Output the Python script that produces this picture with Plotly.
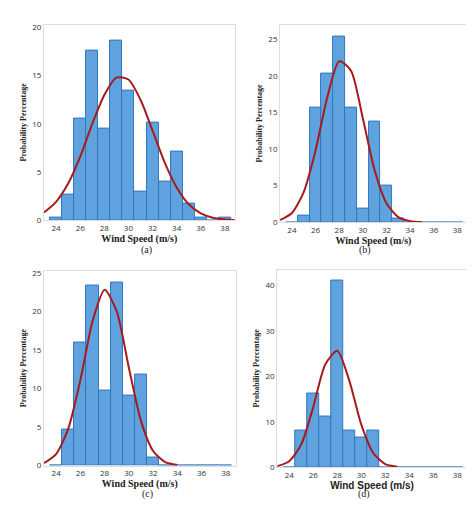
import plotly.graph_objects as go

# bin centres (width 1 m/s)
bins = [24, 25, 26, 27, 28, 29, 30, 31, 32, 33, 34, 35, 36, 37, 38]
pct_a = [0.3, 2.7, 10.5, 17.6, 9.5, 18.6, 13.5, 3.0, 10.1, 4.0, 7.1, 1.7, 0.3, 0, 0.3]
pct_b = [0, 0.9, 15.6, 20.3, 25.4, 15.6, 1.9, 13.8, 5.0, 0.5, 0, 0, 0, 0, 0]
pct_c = [0, 4.7, 15.9, 23.4, 9.8, 23.7, 9.1, 11.8, 1.0, 0, 0, 0, 0, 0, 0]
pct_d = [0, 8.0, 16.2, 11.1, 41.1, 8.0, 6.6, 8.0, 0, 0, 0, 0, 0, 0, 0]

# fitted normal curves
curve_x = [23, 24, 25, 26, 27, 28, 29, 30, 31, 32, 33, 34, 35, 36, 37, 38, 39]
fit_a = [0.8, 1.9, 3.8, 6.6, 10.0, 13.0, 14.8, 14.6, 12.5, 9.3, 6.0, 3.4, 1.65, 0.7, 0.25, 0.08, 0.02]
fit_b = [0.28, 1.25, 4.1, 9.8, 17.1, 22.0, 20.7, 14.2, 7.1, 2.6, 0.7, 0.14, 0.02]
fit_c = [0.33, 1.5, 4.8, 11.1, 18.7, 22.8, 20.0, 12.7, 5.8, 1.9, 0.45, 0.08]
fit_d = [0.21, 1.3, 5.0, 13.2, 22.6, 25.6, 19.1, 9.4, 3.1, 0.65, 0.09]

panels = [
    ('a', pct_a, fit_a, [0.076, 0.478], [0.587, 0.975], [0, 20.3], 5, '(a)', 0.528),
    ('b', pct_b, fit_b, [0.574, 0.968], [0.583, 0.975], [0, 27], 5, '(b)', 0.528),
    ('c', pct_c, fit_c, [0.076, 0.480], [0.100, 0.487], [0, 25.3], 5, '(c)', 0.027),
    ('d', pct_d, fit_d, [0.568, 0.968], [0.097, 0.489], [0, 43.5], 10, '(d)', 0.027),
]

fig = go.Figure()
annotations = []
for i, (name, pct, fit, xd, yd, yr, dt, lab, ly) in enumerate(panels):
    n = '' if i == 0 else str(i + 1)
    fig.add_trace(go.Bar(x=bins, y=pct, width=1, marker=dict(color='#5fa2dd', line=dict(color='#2f78c0', width=1)),
                         xaxis='x' + n, yaxis='y' + n, showlegend=False))
    fig.add_trace(go.Scatter(x=curve_x[:len(fit)], y=fit, mode='lines',
                             line=dict(color='#a61b1b', width=2, shape='spline', smoothing=0.7),
                             xaxis='x' + n, yaxis='y' + n, showlegend=False))
    xtitle_font = dict(family='Liberation Sans', size=10, color='#222') if name == 'd' else dict(family='Liberation Serif', size=10, color='#222')
    fig.update_layout({
        'xaxis' + n: dict(domain=xd, anchor='y' + n, range=[23, 38.8], dtick=2, tick0=24, showgrid=False,
                          showline=True, mirror=True, linecolor='#ddd', tickfont=dict(size=8, color='#333'),
                          title=dict(text='<b>Wind Speed (m/s)</b>', font=xtitle_font, standoff=2), zeroline=False),
        'yaxis' + n: dict(domain=yd, anchor='x' + n, range=yr, dtick=dt, showgrid=False,
                          showline=True, mirror=True, linecolor='#ddd', tickfont=dict(size=8, color='#333'),
                          title=dict(text='<b>Probability Percentage</b>', font=dict(family='Liberation Serif', size=8, color='#222'), standoff=4),
                          zeroline=False),
    })
    annotations.append(dict(text=lab, x=(xd[0] + xd[1]) / 2, y=ly, xref='paper', yref='paper',
                            showarrow=False, font=dict(family='Liberation Serif', size=10, color='#222')))

fig.update_layout(width=474, height=513, margin=dict(l=0, r=0, t=0, b=0), bargap=0,
                  plot_bgcolor='white', paper_bgcolor='white', annotations=annotations)
fig.write_html('out.html')
